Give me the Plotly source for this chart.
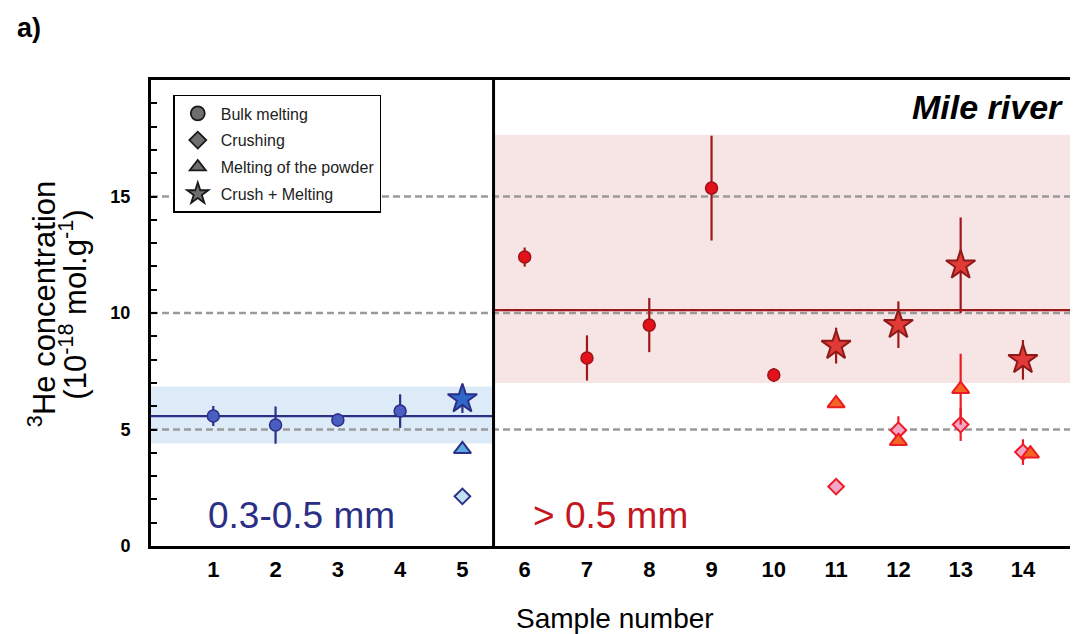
import plotly.graph_objects as go

# ---------------- data ----------------
samples = list(range(1, 15))
tick_labels = [str(s) for s in samples]
x_range = [0, 14.9]
y_range = [0, 20]
y_major = [0, 5, 10, 15]
ref_levels = [5, 10, 15]
split_x = 5.5

# 0.3-0.5 mm fraction (samples 1-5)
fine_bulk_x = [1, 2, 3, 4]
fine_bulk_y = [5.58, 5.19, 5.41, 5.79]
fine_bulk_err = [0.43, 0.80, 0.28, 0.72]
fine_cm_x = [5]
fine_cm_y = [6.31]
fine_cm_err = [0.60]
fine_powder_x = [5]
fine_powder_y = [4.15]
fine_crush_x = [5]
fine_crush_y = [2.13]
fine_mean = 5.57
fine_band = [4.4, 6.85]

# > 0.5 mm fraction (samples 6-14)
coarse_bulk_x = [6, 7, 8, 9, 10]
coarse_bulk_y = [12.4, 8.07, 9.48, 15.36, 7.34]
coarse_bulk_err = [0.41, 0.97, 1.16, 2.25, 0.30]
coarse_cm_x = [11, 12, 13, 14]
coarse_cm_y = [8.6, 9.5, 12.05, 7.99]
coarse_cm_err = [0.77, 1.0, 2.05, 0.85]
coarse_powder_x = [11, 12, 13, 14.12]
coarse_powder_y = [6.12, 4.5, 6.73, 3.96]
coarse_powder_err = [0, 0, 1.52, 0]
coarse_crush_x = [11, 12, 13, 14]
coarse_crush_y = [2.55, 4.97, 5.21, 4.03]
coarse_crush_err = [0, 0.6, 0.7, 0.55]
coarse_mean = 10.12
coarse_band = [7.0, 17.65]

legend_names = ["Bulk melting", "Crushing", "Melting of the powder", "Crush + Melting"]
legend_symbols = ["circle", "diamond", "triangle-up", "star"]
legend_sizes = [14, 13, 14, 18]

# ---------------- style ----------------
FONT = "Liberation Sans, Arial, sans-serif"
NAVY = "#2B2F86"
DARKRED = "#A0171B"
BRIGHTRED = "#EC1C24"

fig = go.Figure()


def add(x, y, err, symbol, size, fill, line, errcol, lw=1.5):
    fig.add_trace(go.Scatter(
        x=x, y=y, mode="markers", showlegend=False, hoverinfo="skip",
        marker=dict(symbol=symbol, size=size, color=fill, line=dict(color=line, width=lw)),
        error_y=dict(type="data", array=err, visible=err is not None, width=0,
                     thickness=2.2, color=errcol),
    ))


# fine fraction
add(fine_bulk_x, fine_bulk_y, fine_bulk_err, "circle", 12, "#4A5EC2", NAVY, NAVY)
add(fine_crush_x, fine_crush_y, None, "diamond", 12, "#BFE2EE", NAVY, NAVY, 2)
add(fine_powder_x, fine_powder_y, None, "triangle-up", 15, "#5BAAE0", NAVY, NAVY, 2)
add(fine_cm_x, fine_cm_y, fine_cm_err, "star", 22, "#2F68C8", NAVY, NAVY, 2)

# coarse fraction
add(coarse_bulk_x, coarse_bulk_y, coarse_bulk_err, "circle", 12, "#E3121A", "#9E1318", DARKRED)
add(coarse_crush_x, coarse_crush_y, coarse_crush_err, "diamond", 12, "#F4A6C8", BRIGHTRED, BRIGHTRED, 2)
add(coarse_powder_x, coarse_powder_y, coarse_powder_err, "triangle-up", 15, "#F26522", BRIGHTRED, BRIGHTRED, 2)
add(coarse_cm_x, coarse_cm_y, coarse_cm_err, "star", 22, "#E23A36", "#8E1A1A", DARKRED, 2)

# legend-only entries (grey symbols)
for i, (nm, sym, sz) in enumerate(zip(legend_names, legend_symbols, legend_sizes)):
    fig.add_trace(go.Scatter(
        x=[None], y=[None], mode="markers", name=nm, legendgroup=f"g{i}",
        marker=dict(symbol=sym, size=sz, color="#6E6E6E", line=dict(color="#1A1A1A", width=1.8)),
    ))

shapes = []
# bands
shapes.append(dict(type="rect", xref="x", yref="y", x0=x_range[0], x1=split_x,
                   y0=fine_band[0], y1=fine_band[1], fillcolor="#DDEBF8", line=dict(width=0), layer="below"))
shapes.append(dict(type="rect", xref="x", yref="y", x0=split_x, x1=x_range[1],
                   y0=coarse_band[0], y1=coarse_band[1], fillcolor="#F7E5E5", line=dict(width=0), layer="below"))
# grey dashed reference levels
for lv in ref_levels:
    shapes.append(dict(type="line", xref="x", yref="y", x0=x_range[0], x1=x_range[1], y0=lv, y1=lv,
                       line=dict(color="#9A9A9A", width=2.5, dash="7px,4px"), layer="below"))
# mean lines
shapes.append(dict(type="line", xref="x", yref="y", x0=x_range[0], x1=split_x, y0=fine_mean, y1=fine_mean,
                   line=dict(color=NAVY, width=2.2), layer="below"))
shapes.append(dict(type="line", xref="x", yref="y", x0=split_x, x1=x_range[1], y0=coarse_mean, y1=coarse_mean,
                   line=dict(color=DARKRED, width=2.2), layer="below"))
# divider
shapes.append(dict(type="line", xref="x", yref="paper", x0=split_x, x1=split_x, y0=0, y1=1,
                   line=dict(color="black", width=3), layer="above"))

annotations = [
    dict(text="<b>a)</b>", xref="paper", yref="paper", x=-0.147, y=1.112, xanchor="left", yanchor="middle",
         showarrow=False, font=dict(family=FONT, size=27, color="black")),
    dict(text="<b><i>Mile river</i></b>", xref="paper", yref="paper", x=0.985, y=0.942, xanchor="right",
         yanchor="middle", showarrow=False, font=dict(family=FONT, size=34, color="black")),
    dict(text="0.3-0.5 mm", xref="paper", yref="paper", x=0.059, y=0.066, xanchor="left", yanchor="middle",
         showarrow=False, font=dict(family=FONT, size=37, color=NAVY)),
    dict(text="> 0.5 mm", xref="paper", yref="paper", x=0.41, y=0.066, xanchor="left", yanchor="middle",
         showarrow=False, font=dict(family=FONT, size=37, color="#C4161E")),
    dict(text="<sup>3</sup>He concentration", xref="paper", yref="paper", x=-0.118, y=0.52,
         xanchor="center", yanchor="middle", textangle=-90, showarrow=False,
         font=dict(family=FONT, size=31, color="black")),
    dict(text="(10<sup>-18</sup> mol.g<sup>-1</sup>)", xref="paper", yref="paper", x=-0.084, y=0.518,
         xanchor="center", yanchor="middle", textangle=-90, showarrow=False,
         font=dict(family=FONT, size=31, color="black")),
    dict(text="Sample number", xref="paper", yref="paper", x=0.5, y=-0.156, xanchor="center", yanchor="middle",
         showarrow=False, font=dict(family=FONT, size=28, color="black")),
]

fig.update_layout(
    width=1078, height=634,
    margin=dict(l=143, r=4, t=72, b=96),
    paper_bgcolor="white", plot_bgcolor="white",
    font=dict(family=FONT, color="black"),
    shapes=shapes, annotations=annotations,
    showlegend=True,
    legend=dict(x=0.024, y=0.968, xanchor="left", yanchor="top", bgcolor="white",
                bordercolor="black", borderwidth=1.5, font=dict(family=FONT, size=16, color="#222"),
                tracegroupgap=3, traceorder="grouped", itemwidth=36),
)
fig.update_xaxes(range=x_range, tickvals=samples, ticktext=[f"<b>{t}</b>" for t in tick_labels],
                 showgrid=False, zeroline=False,
                 showline=True, linecolor="black", linewidth=3, mirror=True, ticks="",
                 tickfont=dict(family=FONT, size=22, color="black"), ticklabelstandoff=2)
fig.update_yaxes(range=y_range, tickvals=y_major, ticktext=[f"<b>{v}</b>" for v in y_major],
                 showgrid=False, zeroline=False,
                 showline=True, linecolor="black", linewidth=3, mirror=True,
                 ticks="inside", ticklen=6, tickwidth=2, tickcolor="black",
                 minor=dict(dtick=1, ticks="inside", ticklen=6, tickwidth=2, tickcolor="black"),
                 tickfont=dict(family=FONT, size=18, color="black"), ticklabelstandoff=14)

fig.write_html("out.html")
